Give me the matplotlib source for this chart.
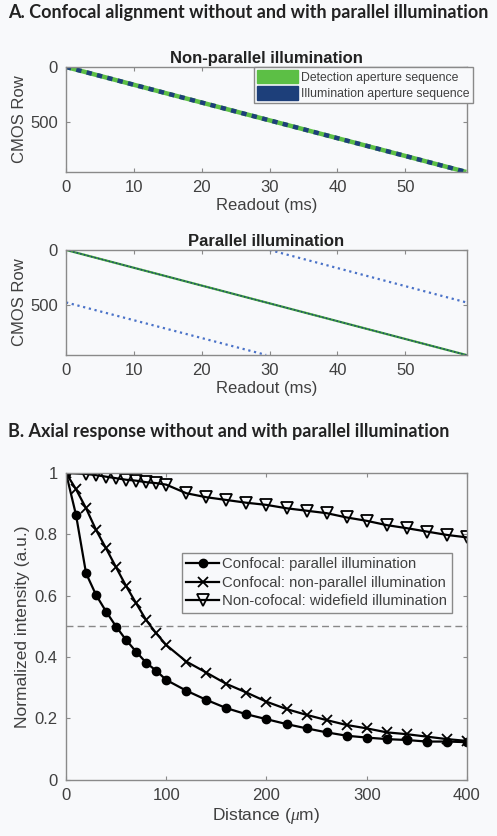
import matplotlib
matplotlib.use('Agg')
import matplotlib.pyplot as plt
from matplotlib.patches import Patch
import numpy as np

# ---- data ----
# panel A: readout time (ms) vs CMOS row
t_full = [0, 59]
row_full = [0, 955]
# parallel illumination: illumination sequence split into two halves
t_ill_low = [0, 29.5]
row_ill_low = [477, 955]
t_ill_up = [30, 59]
row_ill_up = [0, 477]

# panel B: axial response
dist_conf = [0, 10, 20, 30, 40, 50, 60, 70, 80, 90, 100, 120, 140, 160, 180, 200,
             220, 240, 260, 280, 300, 320, 340, 360, 380, 400]
conf_par = [1.0, 0.863, 0.673, 0.602, 0.548, 0.499, 0.455, 0.417, 0.381, 0.355, 0.325,
            0.290, 0.260, 0.233, 0.213, 0.197, 0.181, 0.167, 0.154, 0.143, 0.137,
            0.132, 0.129, 0.124, 0.124, 0.122]
conf_nonpar = [1.0, 0.947, 0.885, 0.814, 0.754, 0.692, 0.631, 0.575, 0.520, 0.477, 0.439,
               0.385, 0.349, 0.312, 0.284, 0.254, 0.230, 0.211, 0.194, 0.178, 0.167,
               0.154, 0.148, 0.140, 0.132, 0.126]
dist_wide = [0, 20, 30, 40, 50, 60, 70, 80, 90, 100, 120, 140, 160, 180, 200,
             220, 240, 260, 280, 300, 320, 340, 360, 380, 400]
widefield = [1.0, 0.997, 0.993, 0.988, 0.983, 0.978, 0.975, 0.970, 0.967, 0.962,
             0.934, 0.921, 0.912, 0.903, 0.896, 0.885, 0.877, 0.869, 0.855, 0.844,
             0.830, 0.820, 0.809, 0.798, 0.790]

bg = '#f8f9fb'
green = '#5cbf45'
navy = '#1d3f7a'
blue_dot = '#4a72c8'
txt = '#404040'
spine = '#8a8a8a'

plt.rcParams['font.family'] = ['Liberation Sans', 'DejaVu Sans']
plt.rcParams['mathtext.fontset'] = 'custom'
plt.rcParams['mathtext.it'] = 'Liberation Serif:italic'

fig = plt.figure(figsize=(4.97, 8.36), dpi=100, facecolor=bg)


def style(ax):
    ax.set_facecolor(bg)
    for s in ax.spines.values():
        s.set_color(spine)
        s.set_linewidth(1.0)
    ax.tick_params(direction='in', top=True, right=True, colors=spine,
                   labelcolor=txt, labelsize=12, length=3, pad=6)


ax1 = fig.add_axes([0.1328, 0.7943, 0.8068, 0.1256])
ax2 = fig.add_axes([0.1328, 0.5754, 0.8068, 0.1256])
ax3 = fig.add_axes([0.1328, 0.0675, 0.8068, 0.3667])

# non-parallel
ax1.plot(t_full, row_full, color=green, lw=3.2, solid_capstyle='butt')
ax1.plot(t_full, row_full, color=navy, lw=3.2, dashes=(1.2, 1.2))
ax1.set_title('Non-parallel illumination', fontsize=12, fontweight='bold',
              color='#222222', pad=3)
leg1 = ax1.legend(handles=[Patch(facecolor=green, edgecolor=green, label='Detection aperture sequence'),
                           Patch(facecolor=navy, edgecolor=navy, label='Illumination aperture sequence')],
                  loc='upper right', bbox_to_anchor=(0.9517, 0.9199),
                  bbox_transform=fig.transFigure, fontsize=8.8, handlelength=3.3,
                  handleheight=1.3, handletextpad=0.3, borderpad=0.25, labelspacing=0.2,
                  fancybox=False, framealpha=1, borderaxespad=0)
leg1.get_frame().set_edgecolor(spine)
leg1.get_frame().set_facecolor(bg)
for t in leg1.get_texts():
    t.set_color(txt)

# parallel
ax2.plot(t_full, row_full, color='#3c9a3c', lw=1.6)
ax2.plot(t_full, row_full, color=navy, lw=1.0, ls=':')
ax2.plot(t_ill_low, row_ill_low, color=blue_dot, lw=1.6, ls=':')
ax2.plot(t_ill_up, row_ill_up, color=blue_dot, lw=1.6, ls=':')
ax2.set_title('Parallel illumination', fontsize=12, fontweight='bold',
              color='#222222', pad=3)

for ax in (ax1, ax2):
    style(ax)
    ax.set_xlim(0, 59.1)
    ax.set_ylim(955, 0)
    ax.set_xticks([0, 10, 20, 30, 40, 50])
    ax.set_yticks([0, 500])
    ax.set_xlabel('Readout (ms)', fontsize=12, color=txt, labelpad=2)
    ax.set_ylabel('CMOS Row', fontsize=12, color=txt, labelpad=2)

# axial response
ax3.axhline(0.5, color='#888888', lw=1.0, dashes=(5, 3))
ax3.plot(dist_conf, conf_par, color='black', lw=1.6, marker='o', ms=6,
         mfc='black', mec='black', label='Confocal: parallel illumination')
ax3.plot(dist_conf, conf_nonpar, color='black', lw=1.6, marker='x', ms=6.5,
         mew=1.3, label='Confocal: non-parallel illumination')
ax3.plot(dist_wide, widefield, color='black', lw=1.6, marker='v', ms=8,
         mfc='none', mec='black', mew=1.3, label='Non-cofocal: widefield illumination')
style(ax3)
ax3.set_xlim(0, 400)
ax3.set_ylim(0, 1)
ax3.set_xticks([0, 100, 200, 300, 400])
ax3.set_yticks([0, 0.2, 0.4, 0.6, 0.8, 1])
ax3.set_yticklabels(['0', '0.2', '0.4', '0.6', '0.8', '1'])
ax3.set_xlabel(r'Distance ($\mu$m)', fontsize=12.5, color=txt, labelpad=2)
ax3.set_ylabel('Normalized intensity (a.u.)', fontsize=12.5, color=txt, labelpad=3)
leg3 = ax3.legend(loc='upper left', bbox_to_anchor=(0.3662, 0.3385),
                  bbox_transform=fig.transFigure, fontsize=10.7, handlelength=2.2,
                  handletextpad=0.2, borderpad=0.3, labelspacing=0.3,
                  fancybox=False, framealpha=1, borderaxespad=0)
leg3.get_frame().set_edgecolor(spine)
leg3.get_frame().set_facecolor(bg)
for t in leg3.get_texts():
    t.set_color(txt)

fig.text(0.016, 0.9845, 'A. Confocal alignment without and with parallel illumination',
         fontsize=13, fontweight='bold', family=['Lato', 'DejaVu Sans'],
         color='#222222', va='center', ha='left')
fig.text(0.016, 0.4833, 'B. Axial response without and with parallel illumination',
         fontsize=13, fontweight='bold', family=['Lato', 'DejaVu Sans'],
         color='#222222', va='center', ha='left')

fig.savefig('out.png', dpi=100, facecolor=bg)
